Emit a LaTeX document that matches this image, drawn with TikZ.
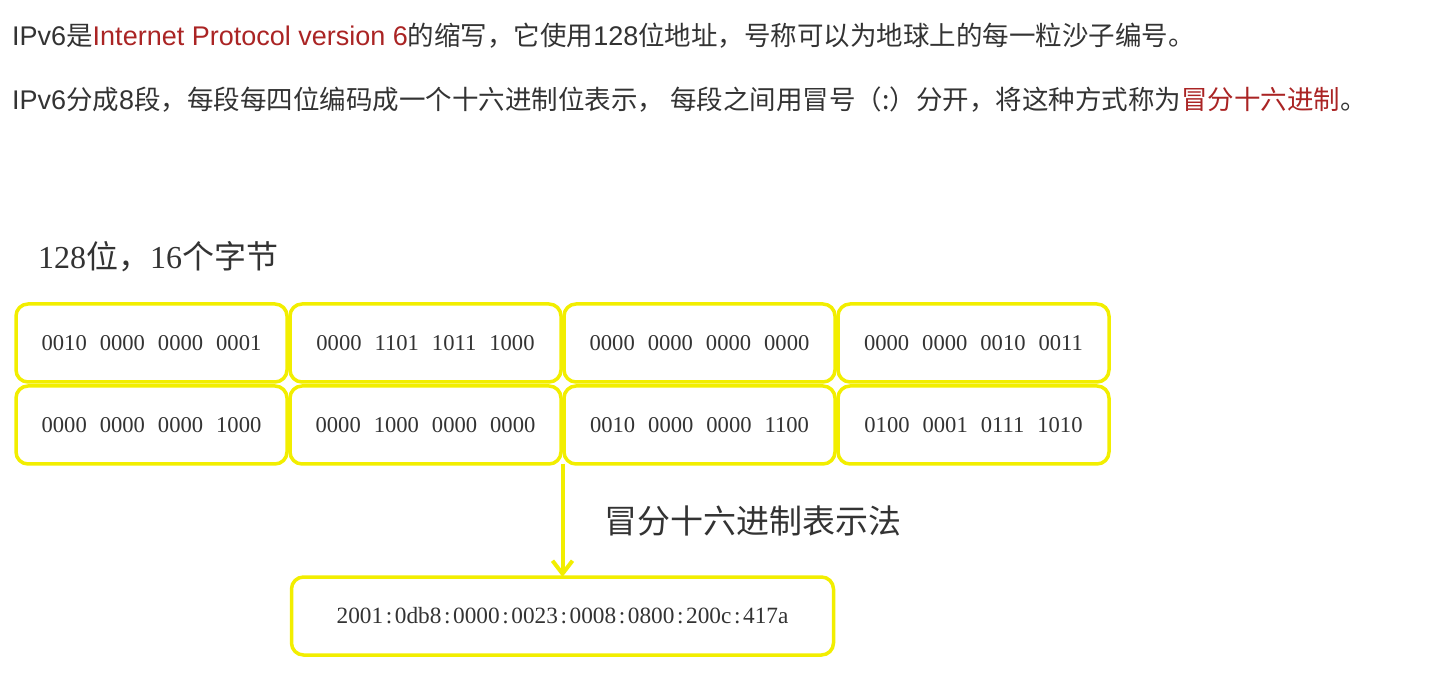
\documentclass[tikz,border=0pt]{standalone}
\usepackage{fontspec}
\setmainfont{Liberation Serif}
\newfontfamily\cjk{Noto Sans CJK SC}
\newfontfamily\la{Liberation Sans}
\usetikzlibrary{arrows.meta,positioning,calc}
\definecolor{ipyellow}{RGB}{242,238,0}
\definecolor{iptext}{RGB}{51,51,51}
\definecolor{ipred}{RGB}{170,36,36}
\newcommand{\nibbles}[4]{#1\hspace{13pt}#2\hspace{13pt}#3\hspace{13pt}#4}
\newcommand{\cl}{\makebox[.5em]{:}}
\newcommand{\lat}[1]{{\la\fontsize{27}{30}\selectfont #1}}

\begin{document}
\begin{tikzpicture}[x=1pt, y=-1pt, text=iptext,
  font=\fontsize{22.6}{26}\selectfont, node distance=4pt and 3pt,
  seg/.style={draw=ipyellow, line width=3.5pt, rounded corners=12pt, outer sep=0pt,
    minimum width=271pt, minimum height=78pt, inner sep=0pt},
  arr/.style={draw=ipyellow, line width=4pt, -{Straight Barb[length=13pt, width=20pt]}},
  txt/.style={anchor=base west, inner sep=0pt, font=\cjk\fontsize{26.5}{30}\selectfont}]
  \useasboundingbox (0,0) rectangle (1452,700);
  % intro text
  \node[txt] (intro) at (12,46) {\lat{IPv6}是{\color{ipred}\lat{Internet Protocol version 6}}的缩写，它使用\lat{128}位地址，号称可以为地球上的每一粒沙子编号。};
  \node[txt] (split) at (12,110) {\lat{IPv6}分成\lat{8}段，每段每四位编码成一个十六进制位表示， 每段之间用冒号（:）分开，将这种方式称为{\color{ipred}冒分十六进制}。};
  \node[anchor=base west, inner sep=0pt, font=\fontsize{32}{36}\selectfont] (bits) at (38,269) {128{\cjk 位，}16{\cjk 个字节}};
  % 8 segments
  \node[seg] (r1c1) at (151.5,343) {\nibbles{0010}{0000}{0000}{0001}};
  \node[seg, right=of r1c1] (r1c2) {\nibbles{0000}{1101}{1011}{1000}};
  \node[seg, right=of r1c2] (r1c3) {\nibbles{0000}{0000}{0000}{0000}};
  \node[seg, right=of r1c3] (r1c4) {\nibbles{0000}{0000}{0010}{0011}};
  \node[seg, below=of r1c1] (r2c1) {\nibbles{0000}{0000}{0000}{1000}};
  \node[seg, right=of r2c1] (r2c2) {\nibbles{0000}{1000}{0000}{0000}};
  \node[seg, right=of r2c2] (r2c3) {\nibbles{0010}{0000}{0000}{1100}};
  \node[seg, right=of r2c3] (r2c4) {\nibbles{0100}{0001}{0111}{1010}};
  \coordinate (jn) at ($(r2c2.south east)!0.5!(r2c3.south west)$);
  % colon hex form
  \node[seg, minimum width=542pt, font=\fontsize{23.3}{26}\selectfont, below=113pt of jn] (hex)
    {2001\cl 0db8\cl 0000\cl 0023\cl 0008\cl 0800\cl 200c\cl 417a};
  \draw[arr] (jn) -- (hex);
  \node[anchor=west, inner sep=0pt, font=\cjk\fontsize{33}{37}\selectfont] (hexlabel) at (604,521) {冒分十六进制表示法};
\end{tikzpicture}
\end{document}
